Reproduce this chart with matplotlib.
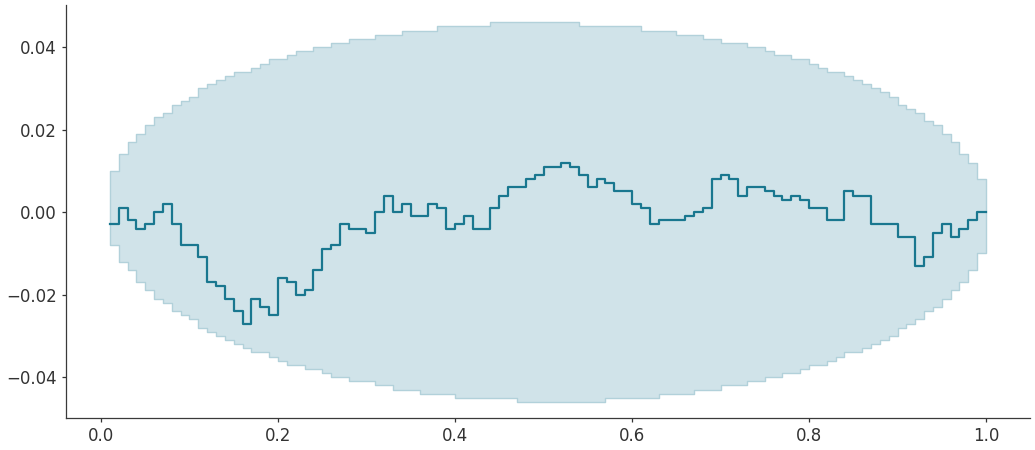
import matplotlib
matplotlib.use("Agg")
import matplotlib.pyplot as plt
import numpy as np

# x grid (0.01 ... 1.00)
x = np.round(np.arange(1, 101) / 100, 2)

# ECDF difference, in thousandths
ecdf_diff = [
    -3, 1, -2, -4, -3, 0, 2, -3, -8, -8,
    -11, -17, -18, -21, -24, -27, -21, -23, -25, -16,
    -17, -20, -19, -14, -9, -8, -3, -4, -4, -5,
    0, 4, 0, 2, -1, -1, 2, 1, -4, -3,
    -1, -4, -4, 1, 4, 6, 6, 8, 9, 11,
    11, 12, 11, 9, 6, 8, 7, 5, 5, 2,
    1, -3, -2, -2, -2, -1, 0, 1, 8, 9,
    8, 4, 6, 6, 5, 4, 3, 4, 3, 1,
    1, -2, -2, 5, 4, 4, -3, -3, -3, -6,
    -6, -13, -11, -5, -3, -6, -4, -2, 0, 0,
]

# confidence band, in thousandths
band_upper = [
    10, 14, 17, 19, 21, 23, 24, 26, 27, 28,
    30, 31, 32, 33, 34, 34, 35, 36, 37, 37,
    38, 39, 39, 40, 40, 41, 41, 42, 42, 42,
    43, 43, 43, 44, 44, 44, 44, 45, 45, 45,
    45, 45, 45, 46, 46, 46, 46, 46, 46, 46,
    46, 46, 46, 45, 45, 45, 45, 45, 45, 45,
    44, 44, 44, 44, 43, 43, 43, 42, 42, 41,
    41, 41, 40, 40, 39, 38, 38, 37, 37, 36,
    35, 34, 34, 33, 32, 31, 30, 29, 28, 26,
    25, 24, 22, 21, 19, 17, 14, 12, 8, 8,
]
band_lower = [
    -8, -12, -14, -17, -19, -21, -22, -24, -25, -26,
    -28, -29, -30, -31, -32, -33, -34, -34, -35, -36,
    -37, -37, -38, -38, -39, -40, -40, -41, -41, -41,
    -42, -42, -43, -43, -43, -44, -44, -44, -44, -45,
    -45, -45, -45, -45, -45, -45, -46, -46, -46, -46,
    -46, -46, -46, -46, -46, -46, -45, -45, -45, -45,
    -45, -45, -44, -44, -44, -44, -43, -43, -43, -42,
    -42, -42, -41, -41, -40, -40, -39, -39, -38, -37,
    -37, -36, -35, -34, -34, -33, -32, -31, -30, -28,
    -27, -26, -24, -23, -21, -19, -17, -14, -10, -10,
]

y = np.array(ecdf_diff) / 1000
hi = np.array(band_upper) / 1000
lo = np.array(band_lower) / 1000

line_col = "#19778f"
fill_col = "#d0e3e9"
edge_col = "#b2d1da"

fig = plt.figure(figsize=(10.35, 4.5), dpi=100)
ax = fig.add_axes([0.0638, 0.0711, 0.9312, 0.9179])

ax.fill_between(x, lo, hi, step="post", facecolor=fill_col, edgecolor=edge_col, linewidth=1.0)
ax.step(x, y, where="post", color=line_col, linewidth=1.6)

for s in ["top", "right"]:
    ax.spines[s].set_visible(False)
for s in ["left", "bottom"]:
    ax.spines[s].set_color("#3a3a3a")
    ax.spines[s].set_linewidth(0.9)

ax.set_xticks([0.0, 0.2, 0.4, 0.6, 0.8, 1.0])
ax.set_yticks([-0.04, -0.02, 0.0, 0.02, 0.04])
ax.tick_params(labelsize=12, colors="#333333", length=3, width=0.9)
ax.set_ylim(-0.0499, 0.0502)

fig.savefig("out.png", dpi=100)
